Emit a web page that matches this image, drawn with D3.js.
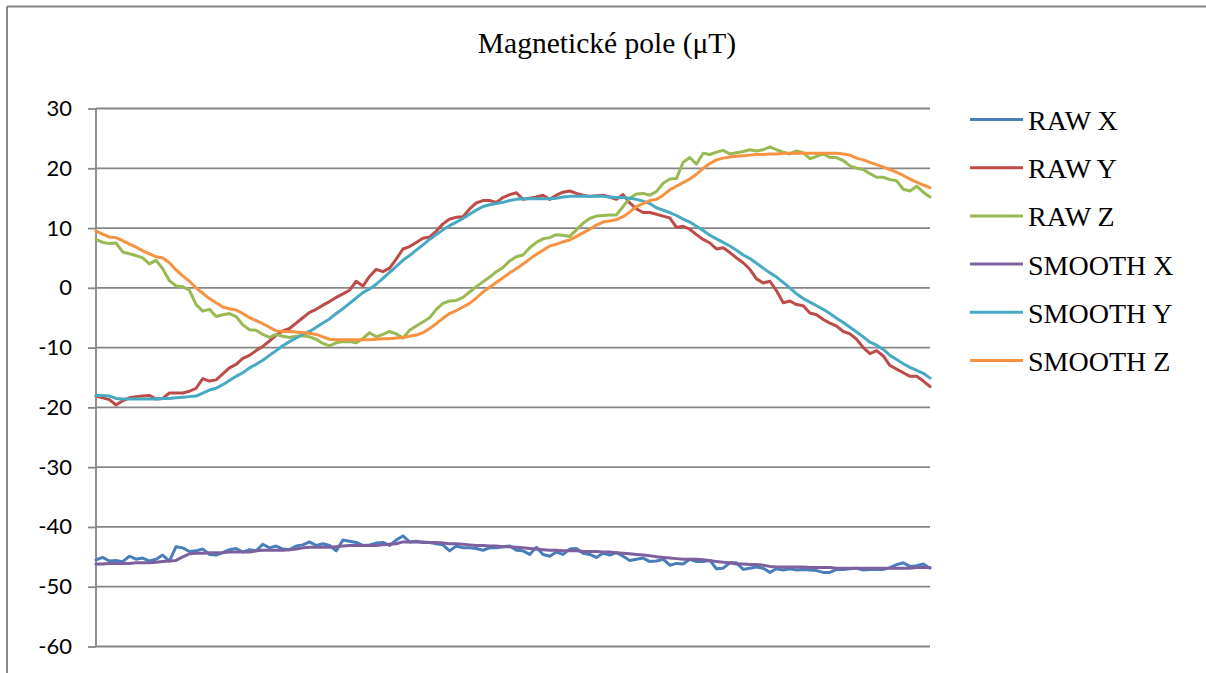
<!DOCTYPE html>
<html>
<head>
<meta charset="utf-8">
<script src="https://cdn.jsdelivr.net/npm/d3@7"></script>
<style>
  html, body { margin: 0; padding: 0; background: #fff; }
  svg { display: block; }
  .serif { font-family: "Liberation Serif", "Times New Roman", serif; }
  .sans { font-family: Lato, "Open Sans", sans-serif; }
</style>
</head>
<body>
<svg id="chart" width="1206" height="673"></svg>
<script>
const title = "Magnetické pole (\u03BCT)";
const seriesNames = ["RAW X", "RAW Y", "RAW Z", "SMOOTH X", "SMOOTH Y", "SMOOTH Z"];
const seriesColors = ["#4A7EBB", "#BE4B48", "#98B954", "#7D60A0", "#46AAC5", "#F69240"];
const yTicks = [30, 20, 10, 0, -10, -20, -30, -40, -50, -60];

const rawX = [-45.5,-45.1,-45.7,-45.6,-45.8,-44.9,-45.4,-45.2,-45.7,-45.4,-44.7,-45.7,-43.3,-43.5,-44.1,-44.0,-43.7,-44.6,-44.7,-44.3,
-43.8,-43.6,-44.2,-43.8,-44.0,-42.9,-43.5,-43.2,-43.7,-43.8,-43.2,-43.0,-42.5,-43.1,-42.8,-43.1,-44.0,-42.2,-42.4,-42.6,
-43.1,-43.0,-42.7,-42.6,-43.1,-42.2,-41.5,-42.5,-42.4,-42.6,-42.6,-42.8,-43.0,-44.0,-43.2,-43.5,-43.5,-43.6,-43.9,-43.5,
-43.5,-43.3,-43.2,-43.9,-44.0,-44.6,-43.4,-44.6,-44.9,-44.2,-44.6,-43.7,-43.6,-44.4,-44.6,-45.1,-44.4,-44.7,-44.3,-44.9,
-45.6,-45.4,-45.2,-45.8,-45.7,-45.4,-46.4,-46.1,-46.2,-45.4,-45.8,-45.8,-45.6,-47.0,-46.9,-46.0,-46.0,-47.1,-46.9,-46.7,
-46.9,-47.6,-47.0,-47.2,-47.0,-47.2,-47.1,-47.2,-47.3,-47.6,-47.6,-47.1,-47.1,-47.0,-46.9,-47.2,-47.1,-47.1,-47.1,-46.8,
-46.3,-46.0,-46.6,-46.5,-46.2,-46.9];

const rawY = [-18.1,-18.4,-18.7,-19.6,-18.9,-18.4,-18.2,-18.1,-18.0,-18.6,-18.5,-17.6,-17.6,-17.6,-17.3,-16.8,-15.2,-15.6,-15.4,-14.4,
-13.4,-12.8,-11.8,-11.3,-10.5,-9.8,-8.9,-7.9,-7.2,-6.8,-5.9,-5.0,-4.1,-3.6,-2.9,-2.3,-1.6,-1.0,-0.4,1.1,
0.3,1.9,3.1,2.7,3.3,4.8,6.5,6.9,7.6,8.3,8.5,9.5,10.7,11.5,11.8,11.9,13.2,14.2,14.6,14.6,
14.3,15.1,15.6,15.9,14.8,15.0,15.2,15.5,14.8,15.5,16.0,16.2,15.8,15.5,15.3,15.4,15.5,15.2,14.8,15.6,
14.2,13.2,12.6,12.6,12.3,12.0,11.7,10.1,10.3,9.8,8.9,8.1,7.5,6.5,6.7,5.9,5.0,4.2,3.1,1.5,
0.8,1.1,-0.5,-2.5,-2.2,-2.8,-3.0,-4.2,-4.5,-5.3,-5.9,-6.4,-7.3,-7.7,-8.6,-10.0,-11.0,-10.5,-11.4,-13.0,
-13.6,-14.2,-14.8,-14.8,-15.6,-16.5];

const rawZ = [8.1,7.6,7.4,7.5,6.0,5.7,5.4,5.0,4.0,4.6,3.2,1.2,0.3,0.2,-0.4,-2.8,-3.9,-3.6,-4.8,-4.5,
-4.3,-4.8,-6.2,-7.0,-7.1,-7.8,-8.3,-7.8,-8.1,-8.3,-8.1,-8.0,-8.2,-8.6,-9.3,-9.7,-9.2,-9.0,-9.0,-9.2,
-8.5,-7.5,-8.2,-7.8,-7.3,-7.7,-8.4,-7.1,-6.4,-5.7,-5.0,-3.6,-2.6,-2.2,-2.1,-1.6,-0.7,0.2,1.0,1.8,
2.7,3.4,4.5,5.2,5.5,6.7,7.6,8.2,8.4,8.9,8.8,8.6,9.7,10.8,11.6,12.0,12.1,12.2,12.2,13.6,
15.0,15.7,15.8,15.5,16.1,17.5,18.2,18.3,21.0,21.8,20.7,22.5,22.3,22.7,23.0,22.4,22.6,22.8,23.1,22.9,
23.1,23.6,23.1,22.7,22.4,22.9,22.6,21.6,22.0,22.4,21.8,21.8,21.3,20.4,20.0,19.8,19.1,18.5,18.5,18.1,
17.9,16.5,16.2,17.0,16.0,15.2];

const smoothX = [-46.2,-46.2,-46.1,-46.1,-46.1,-46.1,-46.0,-46.0,-46.0,-45.9,-45.8,-45.7,-45.6,-45.0,-44.5,-44.4,-44.4,-44.3,-44.3,-44.3,
-44.2,-44.2,-44.2,-44.2,-44.0,-43.9,-43.9,-43.9,-43.9,-43.8,-43.7,-43.5,-43.4,-43.4,-43.4,-43.4,-43.3,-43.2,-43.1,-43.1,
-43.1,-43.1,-43.1,-43.0,-42.9,-42.8,-42.5,-42.5,-42.5,-42.5,-42.6,-42.6,-42.7,-42.8,-42.8,-42.9,-43.0,-43.1,-43.1,-43.2,
-43.2,-43.3,-43.3,-43.4,-43.5,-43.6,-43.7,-43.8,-43.9,-43.9,-44.0,-44.0,-44.0,-44.1,-44.1,-44.1,-44.2,-44.2,-44.3,-44.4,
-44.5,-44.6,-44.7,-44.8,-45.0,-45.1,-45.2,-45.3,-45.4,-45.4,-45.4,-45.5,-45.6,-45.8,-45.9,-46.0,-46.2,-46.2,-46.3,-46.3,
-46.4,-46.6,-46.7,-46.7,-46.7,-46.7,-46.7,-46.8,-46.8,-46.8,-46.8,-46.9,-46.9,-46.9,-46.9,-46.9,-46.9,-46.9,-46.9,-46.9,
-46.9,-46.9,-46.9,-46.8,-46.8,-46.8];

const smoothY = [-18.0,-18.0,-18.1,-18.5,-18.6,-18.6,-18.6,-18.6,-18.6,-18.6,-18.5,-18.5,-18.4,-18.3,-18.2,-18.1,-17.6,-17.1,-16.8,-16.2,
-15.5,-14.8,-14.2,-13.4,-12.8,-12.1,-11.3,-10.5,-9.7,-9.0,-8.4,-7.8,-7.3,-6.6,-5.9,-5.2,-4.3,-3.5,-2.6,-1.7,
-0.8,-0.2,0.6,1.6,2.6,3.6,4.6,5.4,6.3,7.2,8.1,8.9,9.7,10.4,11.0,11.6,12.3,13.0,13.6,13.9,
14.1,14.3,14.6,14.8,14.9,14.9,14.9,14.9,14.9,15.0,15.2,15.3,15.3,15.3,15.3,15.3,15.3,15.2,15.1,15.1,
15.0,14.8,14.5,14.1,13.4,13.0,12.6,12.1,11.5,11.0,10.3,9.6,8.8,8.2,7.6,7.0,6.3,5.5,4.9,4.1,
3.3,2.5,1.8,0.9,0.0,-1.0,-1.8,-2.4,-3.0,-3.6,-4.3,-5.1,-5.8,-6.6,-7.4,-8.2,-9.1,-9.6,-10.3,-11.3,
-12.0,-12.7,-13.3,-13.8,-14.3,-15.1];

const smoothZ = [9.5,9.0,8.5,8.4,7.9,7.3,6.8,6.2,5.7,5.2,5.0,4.2,3.0,2.0,1.1,0.0,-0.9,-1.8,-2.5,-3.2,
-3.5,-3.7,-4.3,-5.0,-5.5,-6.0,-6.6,-7.2,-7.3,-7.3,-7.4,-7.5,-7.6,-7.8,-8.2,-8.6,-8.7,-8.7,-8.7,-8.7,
-8.7,-8.7,-8.6,-8.5,-8.5,-8.4,-8.3,-8.1,-7.9,-7.5,-6.8,-6.0,-5.1,-4.3,-3.8,-3.2,-2.6,-1.7,-0.7,0.1,
0.9,1.7,2.5,3.2,4.0,4.8,5.6,6.3,7.0,7.3,7.7,8.0,8.6,9.2,9.8,10.5,11.0,11.2,11.4,11.9,
12.7,13.6,14.1,14.6,14.8,15.5,16.4,17.0,17.6,18.2,19.0,20.0,20.8,21.4,21.7,21.9,22.0,22.1,22.2,22.3,
22.3,22.4,22.4,22.5,22.5,22.5,22.5,22.5,22.5,22.5,22.5,22.5,22.4,22.2,21.7,21.4,21.0,20.6,20.2,19.8,
19.3,18.8,18.2,17.7,17.2,16.75];

const seriesValues = [rawX, rawY, rawZ, smoothX, smoothY, smoothZ];
const sampleIndex = d3.range(rawX.length);

const svg = d3.select("#chart");
const W = 1206, H = 673;
const plot = { left: 96, right: 930, top: 108.5, bottom: 646.5 };
const gridColor = "#868686";

// outer frame (left and top edges visible)
svg.append("line").attr("x1", 7).attr("x2", 7).attr("y1", 6.5).attr("y2", H)
  .attr("stroke", gridColor).attr("stroke-width", 2);
svg.append("line").attr("x1", 7).attr("x2", W).attr("y1", 6.5).attr("y2", 6.5)
  .attr("stroke", gridColor).attr("stroke-width", 2);

const x = d3.scaleLinear().domain([0, sampleIndex.length - 1]).range([plot.left, plot.right]);
const y = d3.scaleLinear().domain([-60, 30]).range([plot.bottom, plot.top]);

// gridlines
svg.append("g").selectAll("line").data(yTicks).join("line")
  .attr("x1", plot.left).attr("x2", plot.right)
  .attr("y1", d => y(d)).attr("y2", d => y(d))
  .attr("stroke", gridColor).attr("stroke-width", 1.8);

// y axis
const yAxis = d3.axisLeft(y).tickValues(yTicks).tickSize(8).tickPadding(16).tickFormat(d3.format("d"));
const gy = svg.append("g").attr("transform", `translate(${plot.left},0)`).call(yAxis);
gy.attr("font-family", null).attr("font-size", null);
gy.select(".domain").attr("stroke", gridColor).attr("stroke-width", 1.8)
  .attr("d", `M0,${plot.top}V${plot.bottom}`);
gy.selectAll(".tick line").attr("stroke", gridColor).attr("stroke-width", 1.8);
gy.selectAll(".tick text")
  .attr("class", "sans")
  .style("font-size", "22px")
  .attr("fill", "#000")
  .text(d => d < 0 ? "-" + Math.abs(d) : String(d));

// title
svg.append("text").attr("x", 607).attr("y", 53)
  .attr("class", "serif")
  .attr("text-anchor", "middle")
  .style("font-family", "'Liberation Serif', 'Times New Roman', serif")
  .style("font-size", "29.5px").attr("fill", "#000")
  .text(title);

// series lines
const line = d3.line().x((d, i) => x(sampleIndex[i])).y(d => y(d));
svg.append("g").selectAll("path").data(seriesValues).join("path")
  .attr("d", d => line(d))
  .attr("fill", "none")
  .attr("stroke", (d, i) => seriesColors[i])
  .attr("stroke-width", 3)
  .attr("stroke-linejoin", "round")
  .attr("stroke-linecap", "round");

// legend
const legend = svg.append("g");
const lg = legend.selectAll("g").data(seriesNames).join("g")
  .attr("transform", (d, i) => `translate(970, ${119.5 + i * 48.2})`);
lg.append("line").attr("x1", 0).attr("x2", 53).attr("y1", 0).attr("y2", 0)
  .attr("stroke", (d, i) => seriesColors[i]).attr("stroke-width", 3);
lg.append("text").attr("x", 58).attr("y", 10.5)
  .attr("class", "serif")
  .style("font-size", "28px").attr("fill", "#000")
  .text(d => d);
</script>
</body>
</html>
